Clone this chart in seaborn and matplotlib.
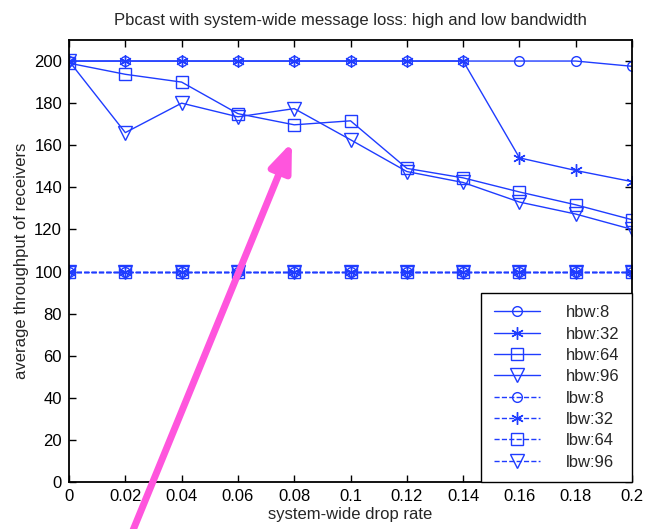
"""Pbcast throughput vs system-wide drop rate"""

import numpy as np
import pandas as pd
import matplotlib
matplotlib.use('Agg')
import matplotlib.pyplot as plt
import seaborn as sns

drop_rate = [0, 0.02, 0.04, 0.06, 0.08, 0.1, 0.12, 0.14, 0.16, 0.18, 0.2]

hbw_8 = [200, 200, 200, 200, 200, 200, 200, 200, 200, 200, 197.5]
hbw_32 = [200, 200, 200, 200, 200, 200, 200, 200, 154, 148, 142.7]
hbw_64 = [199, 193.7, 190, 175, 169.7, 171.6, 149, 144.5, 137.8, 131.7, 124.6]
hbw_96 = [200, 166, 180, 173.5, 177.4, 162.6, 147.5, 142.3, 133, 127.3, 120]
lbw_8 = [100] * 11
lbw_32 = [100] * 11
lbw_64 = [100] * 11
lbw_96 = [100] * 11

series = ['hbw:8', 'hbw:32', 'hbw:64', 'hbw:96', 'lbw:8', 'lbw:32', 'lbw:64', 'lbw:96']
values = [hbw_8, hbw_32, hbw_64, hbw_96, lbw_8, lbw_32, lbw_64, lbw_96]
xtick_labels = ['0', '0.02', '0.04', '0.06', '0.08', '0.1', '0.12', '0.14', '0.16', '0.18', '0.2']

sns.set_style('ticks')
plt.rcParams['font.family'] = ['Liberation Sans', 'DejaVu Sans']

df = pd.DataFrame({'drop': np.tile(drop_rate, len(series)),
                   'throughput': np.concatenate(values),
                   'series': np.repeat(series, len(drop_rate))})

fig = plt.figure(figsize=(6.45, 5.29), dpi=100)
ax = fig.add_axes([0.107, 0.0888, 0.873, 0.8356])

blue = '#1f3cff'
markers = {'8': ('o', 7), '32': ((6, 2, 0), 9), '64': ('s', 9), '96': ('v', 10)}
for name in series:
    band, size = name.split(':')
    m, ms = markers[size]
    sub = df[df['series'] == name]
    sns.lineplot(data=sub, x='drop', y='throughput', ax=ax, label=name,
                 color=blue, linewidth=1.0, marker=m, markersize=ms,
                 markerfacecolor='none', markeredgecolor=blue, markeredgewidth=1.0,
                 linestyle='-' if band == 'hbw' else '--')

ax.set_xlim(0, 0.2)
ax.set_ylim(0, 210)
ax.set_xticks(drop_rate)
ax.set_xticklabels(xtick_labels)
ax.set_yticks(range(0, 201, 20))
ax.tick_params(direction='in', top=True, right=True, length=5, width=1,
               labelsize=12, colors='black', pad=5)
for s in ax.spines.values():
    s.set_visible(True)
    s.set_linewidth(1.3)
    s.set_color('black')

ax.set_xlabel('system-wide drop rate', fontsize=12, labelpad=2)
ax.set_ylabel('average throughput of receivers', fontsize=12, labelpad=4)
ax.set_title('Pbcast with system-wide message loss: high and low bandwidth',
             fontsize=12, pad=11)

leg = ax.legend(loc='lower right', borderaxespad=0, fontsize=12,
                handlelength=2.76, numpoints=1, labelspacing=0.38,
                borderpad=0.75, handletextpad=1.56, fancybox=False,
                edgecolor='black', framealpha=1)
leg.get_frame().set_linewidth(1.0)

ax.annotate('', xy=(0.0792, 161.5), xytext=(0.0227, -23),
            annotation_clip=False,
            arrowprops=dict(arrowstyle='-|>,head_length=1.4,head_width=0.55',
                            color='#ff55dd', lw=5, shrinkA=0, shrinkB=0,
                            mutation_scale=12))

fig.savefig('out.png', dpi=100)
